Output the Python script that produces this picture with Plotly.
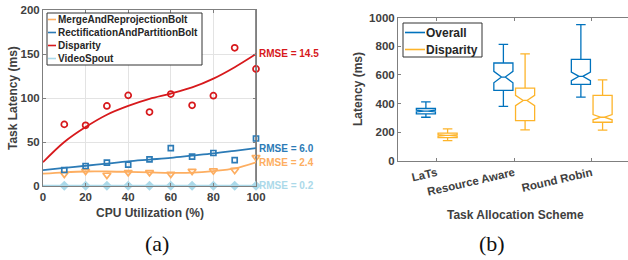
import plotly.graph_objects as go

# ---------------- data: panel (a) ----------------
cpu = [10, 20, 30, 40, 50, 60, 70, 80, 90, 100]
merge_pts = [13.6, 17.0, 12.5, 15.5, 15.5, 13.6, 17.0, 17.4, 18.0, 32.6]
rect_pts = [18.2, 22.7, 26.5, 24.3, 30.3, 43.0, 33.3, 37.5, 29.5, 54.0]
disp_pts = [70.0, 69.0, 91.0, 103.0, 84.0, 104.5, 91.7, 102.6, 157.0, 133.0]
video_pts = [0.3, 0.3, 0.3, 0.3, 0.3, 0.3, 0.3, 0.3, 0.3, 0.3]

fit_x = [0, 10, 20, 30, 40, 50, 60, 70, 80, 90, 100]
merge_fit = [14.0, 15.5, 16.5, 16.5, 16.0, 15.5, 15.0, 15.2, 17.0, 20.0, 27.0]
rect_fit = [18.0, 20.5, 23.0, 25.5, 28.0, 30.0, 32.0, 34.5, 37.0, 40.0, 43.0]
disp_fit = [27.0, 50.0, 67.0, 81.0, 91.0, 99.0, 105.0, 112.0, 122.0, 135.0, 150.0]
video_fit = [0.3, 0.3, 0.3, 0.3, 0.3, 0.3, 0.3, 0.3, 0.3, 0.3, 0.3]

series_names = ["MergeAndReprojectionBolt", "RectificationAndPartitionBolt", "Disparity", "VideoSpout"]
rmse_labels = ["RMSE = 2.4", "RMSE = 6.0", "RMSE = 14.5", "RMSE = 0.2"]

# ---------------- data: panel (b) ----------------
schemes = ["LaTs", "Resource Aware", "Round Robin"]
ov_low = [305, 380, 445]
ov_q1 = [329, 492, 534]
ov_med = [348, 585, 590]
ov_q3 = [366, 683, 708]
ov_high = [412, 813, 951]
ov_notch = [6, 40, 30]

dp_low = [142, 217, 215]
dp_q1 = [163, 282, 270]
dp_med = [178, 422, 305]
dp_q3 = [194, 508, 457]
dp_high = [224, 746, 566]
dp_notch = [5, 36, 18]

box_names = ["Overall", "Disparity"]

# ---------------- styling ----------------
C_ORANGE = "#FDAE61"
C_BLUE = "#2C7BB6"
C_RED = "#D7191C"
C_LBLUE = "#ABD9E9"
B_BLUE = "#0072BD"
B_YEL = "#FDB42A"
TXT = "#404040"
FONT = "Liberation Sans, Arial, sans-serif"
W, H = 628, 260


def px(x):
    return x / W


def py(y):
    return 1 - y / H


fig = go.Figure()

colors = [C_ORANGE, C_BLUE, C_RED, C_LBLUE]
fits = [merge_fit, rect_fit, disp_fit, video_fit]
pts = [merge_pts, rect_pts, disp_pts, video_pts]
symbols = ["triangle-down-open", "square-open", "circle-open", "diamond"]
msizes = [7, 5, 6, 6]

for name, col, f in zip(series_names, colors, fits):
    fig.add_trace(go.Scatter(x=fit_x, y=f, mode="lines", line=dict(color=col, width=1.8, shape="spline"),
                             name=name, showlegend=False, xaxis="x", yaxis="y", cliponaxis=False))
for name, col, p, sym, ms in zip(series_names, colors, pts, symbols, msizes):
    fig.add_trace(go.Scatter(x=cpu, y=p, mode="markers",
                             marker=dict(symbol=sym, size=ms, color=col, line=dict(color=col, width=1.7)),
                             name=name, showlegend=False, xaxis="x", yaxis="y", cliponaxis=False))

# RMSE labels at the end of each fit
for lab, col, f in zip(rmse_labels, colors, fits):
    fig.add_annotation(x=fit_x[-1], y=f[-1], xref="x", yref="y", text=lab, showarrow=False,
                       xanchor="left", yanchor="middle", xshift=1,
                       font=dict(family=FONT, size=10, color=col, weight="bold"))

# panel (b) boxes
fig.add_trace(go.Box(x=schemes, q1=ov_q1, median=ov_med, q3=ov_q3, lowerfence=ov_low, upperfence=ov_high,
                     notchspan=ov_notch, notched=True, notchwidth=0.4, whiskerwidth=0.5,
                     name=box_names[0], showlegend=False, line=dict(color=B_BLUE, width=1.3),
                     fillcolor="rgba(255,255,255,0)", boxpoints=False, xaxis="x2", yaxis="y2"))
fig.add_trace(go.Box(x=schemes, q1=dp_q1, median=dp_med, q3=dp_q3, lowerfence=dp_low, upperfence=dp_high,
                     notchspan=dp_notch, notched=True, notchwidth=0.4, whiskerwidth=0.5,
                     name=box_names[1], showlegend=False, line=dict(color=B_YEL, width=1.3),
                     fillcolor="rgba(255,255,255,0)", boxpoints=False, xaxis="x2", yaxis="y2"))

axis_common = dict(showline=True, linecolor="#7f7f7f", linewidth=1, ticks="inside", ticklen=3,
                   tickcolor="#7f7f7f", tickfont=dict(family=FONT, size=11.5, color=TXT, weight="bold"),
                   zeroline=False, automargin=False)

fig.update_layout(
    width=W, height=H, margin=dict(l=0, r=0, t=0, b=0),
    paper_bgcolor="white", plot_bgcolor="white", showlegend=False,
    boxmode="group", boxgap=0.44, boxgroupgap=0.12,
    xaxis=dict(domain=[px(43), px(256)], range=[0, 100], tickvals=[0, 20, 40, 60, 80, 100],
               showgrid=True, gridcolor="#E3E3E3", gridwidth=1, mirror="ticks", anchor="y", **axis_common),
    yaxis=dict(domain=[py(186), py(10)], range=[0, 200], tickvals=[0, 50, 100, 150, 200],
               showgrid=True, gridcolor="#E3E3E3", gridwidth=1, mirror="ticks", anchor="x", **axis_common),
    xaxis2=dict(domain=[px(398), 1.0], range=[-0.5, 2.468], type="category", showgrid=False,
                mirror="ticks", anchor="y2", tickangle=-13, **axis_common),
    yaxis2=dict(domain=[py(161), py(17.5)], range=[0, 1000], tickvals=[0, 200, 400, 600, 800, 1000],
                showgrid=False, mirror=False, anchor="x2", **axis_common),
)

# thicker gray right border of panel (a), as in the reference
fig.add_shape(type="line", xref="x", yref="y domain", x0=100, x1=100, y0=0, y1=1,
              line=dict(color="#8c8c8c", width=2), layer="below")

# ---------------- compact legends (drawn as in the reference) ----------------
def draw_legend(names, cols, box, x_line0, x_line1, x_text, y0, dy, fsize):
    fig.add_shape(type="rect", xref="paper", yref="paper",
                  x0=px(box[0]), x1=px(box[1]), y0=py(box[3]), y1=py(box[2]),
                  line=dict(color="#333333", width=1), fillcolor="white", layer="above")
    for i, (n, c) in enumerate(zip(names, cols)):
        yy = y0 + i * dy
        fig.add_shape(type="line", xref="paper", yref="paper", x0=px(x_line0), x1=px(x_line1),
                      y0=py(yy), y1=py(yy), line=dict(color=c, width=1.6), layer="above")
        fig.add_annotation(text=n, x=px(x_text), y=py(yy), xref="paper", yref="paper", showarrow=False,
                           xanchor="left", yanchor="middle",
                           font=dict(family=FONT, size=fsize, color="#262626", weight="bold"))


draw_legend(series_names, colors, (47, 202, 13, 65), 48, 56, 56, 19.5, 13, 10)
draw_legend(box_names, [B_BLUE, B_YEL], (403, 482, 23, 57), 405, 425, 424, 32.5, 17, 12)

title_font = dict(family=FONT, size=12, color=TXT, weight="bold")
fig.add_annotation(text="Task Latency (ms)", x=px(13), y=py(98), xref="paper", yref="paper",
                   textangle=-90, showarrow=False, font=title_font, xanchor="center", yanchor="middle")
fig.add_annotation(text="CPU Utilization (%)", x=px(150), y=py(213), xref="paper", yref="paper",
                   showarrow=False, font=title_font, xanchor="center", yanchor="middle")
fig.add_annotation(text="Latency (ms)", x=px(358), y=py(89), xref="paper", yref="paper",
                   textangle=-90, showarrow=False, font=title_font, xanchor="center", yanchor="middle")
fig.add_annotation(text="Task Allocation Scheme", x=px(515), y=py(215), xref="paper", yref="paper",
                   showarrow=False, font=title_font, xanchor="center", yanchor="middle")
cap_font = dict(family="Liberation Serif, Times New Roman, serif", size=22, color="#111111")
fig.add_annotation(text="(a)", x=px(157), y=py(243), xref="paper", yref="paper",
                   showarrow=False, font=cap_font, xanchor="center", yanchor="middle")
fig.add_annotation(text="(b)", x=px(492), y=py(243), xref="paper", yref="paper",
                   showarrow=False, font=cap_font, xanchor="center", yanchor="middle")

fig.write_html("out.html", config={"displayModeBar": False},
               post_script="document.body.style.margin='0px';document.body.style.overflow='hidden';")
